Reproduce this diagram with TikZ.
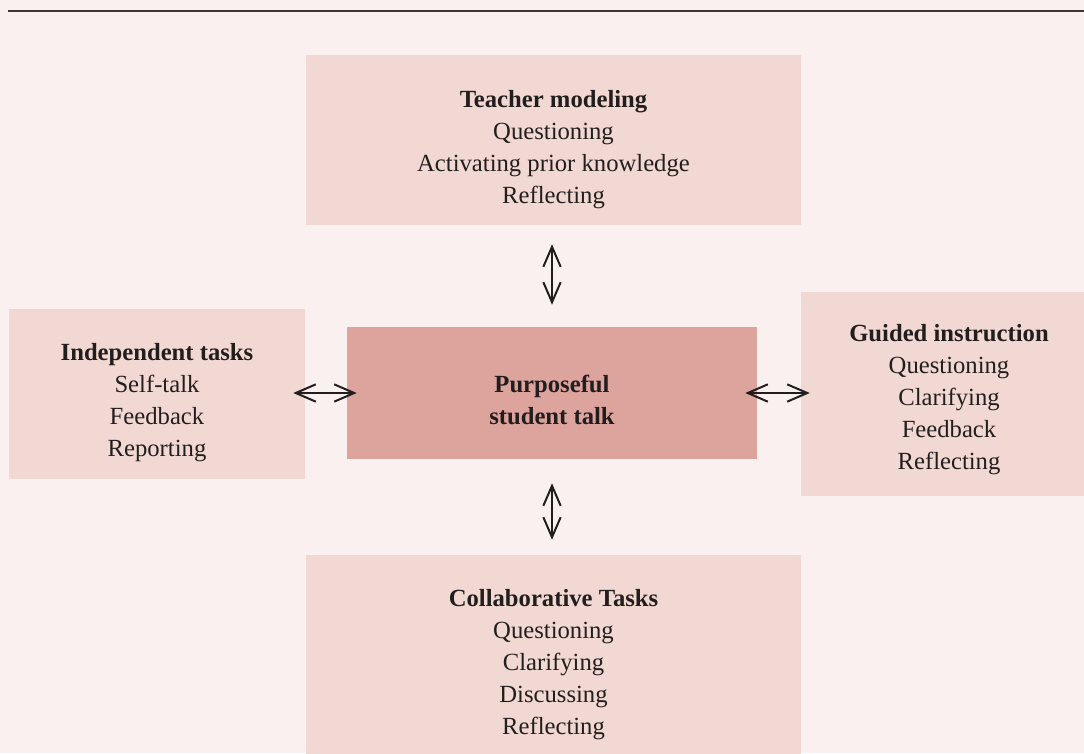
\documentclass[tikz,border=0pt]{standalone}
\usepackage{fontspec}
\setmainfont{Liberation Serif}
\usetikzlibrary{arrows.meta}

\definecolor{pagebg}{RGB}{250,240,240}
\definecolor{boxpink}{RGB}{242,216,210}
\definecolor{corepink}{RGB}{221,164,157}
\definecolor{rulegray}{RGB}{60,55,55}
\definecolor{inkdark}{RGB}{35,30,30}

\tikzset{
  talkbox/.style={fill=boxpink, inner sep=0pt},
  corebox/.style={talkbox, fill=corepink},
  boxtext/.style={inner sep=0pt, align=center, text=inkdark,
    font=\fontsize{18.5}{24}\selectfont},
  twoway/.style={{Straight Barb[length=15pt,width=13pt]}-{Straight Barb[length=15pt,width=13pt]},
    line width=1.5pt, color=inkdark}
}

\begin{document}
\begin{tikzpicture}[x=0.75pt,y=0.75pt,yscale=-1,xscale=1]
        \fill[pagebg] (0,0) rectangle (1084,753);
        \useasboundingbox (0,0) rectangle (1084,753);
        \clip (0,0) rectangle (1084,753);

        % rule across the top
        \coordinate (ruleL) at (8,11);
        \coordinate (ruleR) at (1084,11);
        \draw[rulegray, line width=1.5pt] (ruleL) -- (ruleR);

        % centre and the four surrounding boxes
        \node[corebox, minimum width=307.5pt, minimum height=99pt] (core) at (552,393) {};
        \node[talkbox, minimum width=371.25pt, minimum height=127.5pt] (model) at (553.5,140) {};
        \node[talkbox, minimum width=222pt, minimum height=127.5pt] (indep) at (157,394) {};
        \node[talkbox, minimum width=222pt, minimum height=153pt] (guided) at (949,394) {};
        \node[talkbox, minimum width=371.25pt, minimum height=159pt] (collab) at (553.5,661) {};

        % box texts, set a little below each box centre (y runs downwards)
        \node[boxtext, font=\bfseries\fontsize{18.5}{24}\selectfont] (coreT) at ([yshift=5.25pt]core.center)
            {Purposeful\\student talk};
        \node[boxtext] (modelT) at ([yshift=7.5pt]model.center)
            {\textbf{Teacher modeling}\\Questioning\\Activating prior knowledge\\Reflecting};
        \node[boxtext] (indepT) at ([yshift=6.75pt]indep.center)
            {\textbf{Independent tasks}\\Self-talk\\Feedback\\Reporting};
        \node[boxtext] (guidedT) at ([yshift=4.5pt]guided.center)
            {\textbf{Guided instruction}\\Questioning\\Clarifying\\Feedback\\Reflecting};
        \node[boxtext] (collabT) at ([yshift=3pt]collab.center)
            {\textbf{Collaborative Tasks}\\Questioning\\Clarifying\\Discussing\\Reflecting};

        % two-way arrows
        \draw[twoway, shorten <=14.25pt, shorten >=16.5pt] (model.south -| core.north) -- (core.north);
        \draw[twoway, shorten <=18pt, shorten >=11.25pt] (core.south) -- (collab.north -| core.south);
        \draw[twoway, shorten <=-9pt, shorten >=-7.5pt] (indep.east |- core.west) -- (core.west);
        \draw[twoway, shorten <=-9pt, shorten >=-6.75pt] (core.east) -- (guided.west |- core.east);
\end{tikzpicture}
\end{document}
